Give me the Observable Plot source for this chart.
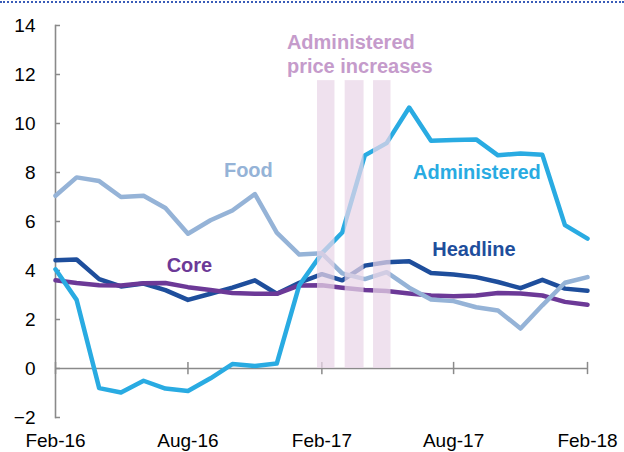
<!DOCTYPE html>
<html><head><meta charset="utf-8">
<script src="https://cdn.jsdelivr.net/npm/d3@7"></script>
<script src="https://cdn.jsdelivr.net/npm/@observablehq/plot@0.6"></script>
<style>
body{margin:0;background:#fff;}
#wrap{position:relative;width:624px;height:452px;}
#dots{position:absolute;left:0;top:1px;width:624px;border-top:2px dotted #3a5cb8;}
svg{font-family:"Liberation Sans",Arial,sans-serif;}
</style></head><body><div id="wrap"><div id="dots"></div></div>
<script>
const months = ["2016-02-01","2016-03-01","2016-04-01","2016-05-01","2016-06-01","2016-07-01","2016-08-01","2016-09-01","2016-10-01","2016-11-01","2016-12-01",
  "2017-01-01","2017-02-01","2017-03-01","2017-04-01","2017-05-01","2017-06-01","2017-07-01","2017-08-01","2017-09-01","2017-10-01","2017-11-01","2017-12-01",
  "2018-01-01","2018-02-01"];
const administered = [4.05,2.8,-0.8,-0.98,-0.5,-0.82,-0.92,-0.4,0.18,0.1,0.2,3.4,4.7,5.55,8.7,9.2,10.65,9.3,9.33,9.35,8.7,8.78,8.72,5.85,5.3];
const headline = [4.42,4.45,3.65,3.35,3.47,3.2,2.8,3.05,3.3,3.6,3.05,3.5,3.85,3.6,4.2,4.34,4.38,3.9,3.84,3.73,3.53,3.28,3.62,3.26,3.17];
const food = [7.05,7.8,7.65,7.0,7.05,6.55,5.5,6.05,6.45,7.12,5.55,4.65,4.7,3.88,3.65,3.93,3.3,2.82,2.75,2.5,2.37,1.63,2.58,3.5,3.73];
const core = [3.6,3.49,3.4,3.39,3.48,3.49,3.32,3.2,3.08,3.05,3.05,3.39,3.4,3.3,3.2,3.16,3.06,2.98,2.95,2.98,3.08,3.06,2.98,2.72,2.6];
const xTicks = ["2016-02-01","2016-08-01","2017-02-01","2017-08-01","2018-02-01"];
const yTicks = [-2,0,2,4,6,8,10,12,14];
const barStarts = ["2017-01-26","2017-03-05","2017-04-13"];
const barEnds = ["2017-02-19","2017-03-31","2017-05-07"];
const barTop = 11.75;
const seriesNames = ["Food","Administered","Headline","Core"];
const seriesColors = ["#95b3d7","#29abe2","#1e4e9c","#6c3997"];
const labelDates = ["2016-10-23","2017-09-02","2017-08-29","2016-08-03"];
const labelValues = [8.06,7.98,4.86,4.18];
const noteText = "Administered\nprice increases";
const noteDate = "2016-12-15";
const noteValue = 13.73;

const parse = d3.utcParse("%Y-%m-%d");
const dates = months.map(parse);
const toRows = vals => vals.map((v, i) => ({date: dates[i], value: v}));
const bars = barStarts.map((s, i) => ({x1: parse(s), x2: parse(barEnds[i]), y1: 0, y2: barTop}));
const labels = seriesNames.map((n, i) => ({name: n, date: parse(labelDates[i]), value: labelValues[i], color: seriesColors[i]}));
const colorOf = n => seriesColors[seriesNames.indexOf(n)];

const lw = 4.5;
const chart = Plot.plot({
  width: 624, height: 452,
  marginLeft: 55, marginRight: 37, marginTop: 25, marginBottom: 35,
  style: {fontFamily: "'Liberation Sans', Arial, sans-serif", background: "white", overflow: "visible"},
  x: {type: "utc", domain: [dates[0], dates[dates.length - 1]]},
  y: {domain: [-2, 14]},
  marks: [
    Plot.frame({anchor: "left", stroke: "#8a8a8a", strokeWidth: 1.6}),
    Plot.axisY({ticks: yTicks, tickSize: 5, dx: 5, tickFormat: () => "", stroke: "#8a8a8a", strokeWidth: 1.5, label: null}),
    Plot.axisY({ticks: yTicks, tickSize: 0, tickPadding: 20, fontSize: 19, fill: "#000", label: null}),
    Plot.axisX({ticks: xTicks.map(parse), tickSize: 0, tickPadding: 16, fontSize: 19, fill: "#000", tickFormat: d3.utcFormat("%b-%y"), label: null}),
    Plot.ruleY([0], {stroke: "#8a8a8a", strokeWidth: 1.5}),
    Plot.ruleX(xTicks.map(parse), {x: d => d, y1: -0.25, y2: 0.25, stroke: "#8a8a8a", strokeWidth: 1.5}),
    Plot.line(toRows(headline), {x: "date", y: "value", stroke: colorOf("Headline"), strokeWidth: lw, strokeLinejoin: "round"}),
    Plot.line(toRows(core), {x: "date", y: "value", stroke: colorOf("Core"), strokeWidth: lw, strokeLinejoin: "round"}),
    Plot.line(toRows(administered), {x: "date", y: "value", stroke: colorOf("Administered"), strokeWidth: lw, strokeLinejoin: "round"}),
    Plot.line(toRows(food), {x: "date", y: "value", stroke: colorOf("Food"), strokeWidth: lw, strokeLinejoin: "round"}),
    Plot.rect(bars, {x1: "x1", x2: "x2", y1: "y1", y2: "y2", fill: "#e9d5e8", fillOpacity: 0.72}),
    Plot.text(labels, {x: "date", y: "value", text: "name", fill: d => d.color, fontSize: 20, fontWeight: "bold", textAnchor: "middle", lineAnchor: "middle"}),
    Plot.text([noteText], {x: () => parse(noteDate), y: () => noteValue, text: d => d, fill: "#c59bcb", fontSize: 20, fontWeight: "bold", textAnchor: "start", lineAnchor: "top", lineHeight: 1.2})
  ]
});
document.getElementById("wrap").appendChild(chart);
</script></body></html>
